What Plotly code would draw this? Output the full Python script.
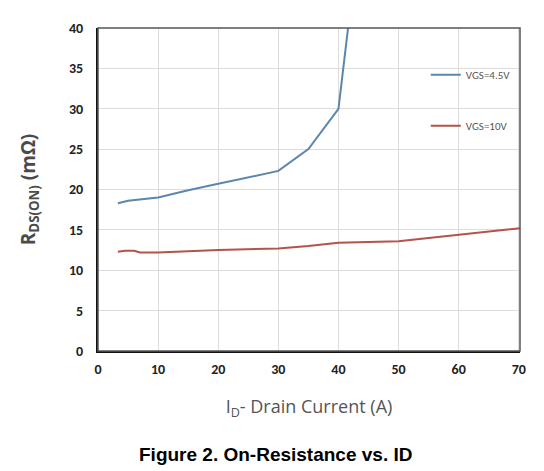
import plotly.graph_objects as go

id_45 = [3.3, 5, 10, 15, 20, 25, 30, 35, 40, 41.6]
r_45 = [18.3, 18.6, 19.0, 19.9, 20.7, 21.5, 22.3, 25.0, 30.0, 40.0]
id_10 = [3.3, 4.5, 6, 7, 10, 15, 20, 30, 35, 40, 45, 50, 55, 60, 65, 70.2]
r_10 = [12.3, 12.4, 12.4, 12.2, 12.2, 12.35, 12.5, 12.7, 13.0, 13.4, 13.5, 13.6, 14.0, 14.4, 14.8, 15.2]
x_ticks = [0, 10, 20, 30, 40, 50, 60, 70]
y_ticks = [0, 5, 10, 15, 20, 25, 30, 35, 40]

tick_font = dict(family="Carlito, Liberation Sans Narrow, Open Sans", size=14, color="#222222", weight="bold")

fig = go.Figure()
fig.add_trace(go.Scatter(x=id_45, y=r_45, mode="lines", name="VGS=4.5V",
                         line=dict(color="#5b86ad", width=2), legendgroup="a"))
fig.add_trace(go.Scatter(x=id_10, y=r_10, mode="lines", name="VGS=10V",
                         line=dict(color="#b5524b", width=2), legendgroup="b"))

fig.update_layout(
    width=544, height=471,
    margin=dict(l=90, r=32, t=14, b=128),
    paper_bgcolor="white", plot_bgcolor="white",
    showlegend=True,
    legend=dict(x=0.99, y=0.90, xanchor="right", yanchor="top",
                bgcolor="rgba(0,0,0,0)", tracegroupgap=32, traceorder="grouped",
                font=dict(family="Carlito, Liberation Sans Narrow, Open Sans", size=11, color="#555555")),
    xaxis=dict(range=[0, 70.2], tickvals=x_ticks, showgrid=True, gridcolor="#dcdcdc", gridwidth=1,
               showline=True, linecolor="#111111", linewidth=2, mirror=False,
               tickfont=tick_font, ticks="", zeroline=False, ticklabelstandoff=4,
               title=dict(text="I<sub>D</sub>- Drain Current (A)",
                          font=dict(family="Open Sans", size=18, color="#555555"), standoff=24)),
    yaxis=dict(range=[0, 40], tickvals=y_ticks, showgrid=True, gridcolor="#dcdcdc", gridwidth=1,
               showline=True, linecolor="#111111", linewidth=2, mirror=False,
               tickfont=tick_font, ticks="", zeroline=False, ticklabelstandoff=10,
               title=dict(text="R<sub>DS(ON)</sub> (mΩ)",
                          font=dict(family="Open Sans", size=19, color="#4a4a4a", weight="bold"), standoff=28)),
)
fig.add_shape(type="rect", xref="paper", yref="paper", x0=0, y0=0, x1=1, y1=1,
              line=dict(color="#555555", width=1.5))
fig.add_annotation(text="<b>Figure 2. On-Resistance vs. ID</b>", xref="paper", yref="paper",
                   x=0.42, y=-0.32, xanchor="center", yanchor="middle", showarrow=False,
                   font=dict(family="Liberation Sans", size=19, color="#000000"))
fig.write_html("out.html")
